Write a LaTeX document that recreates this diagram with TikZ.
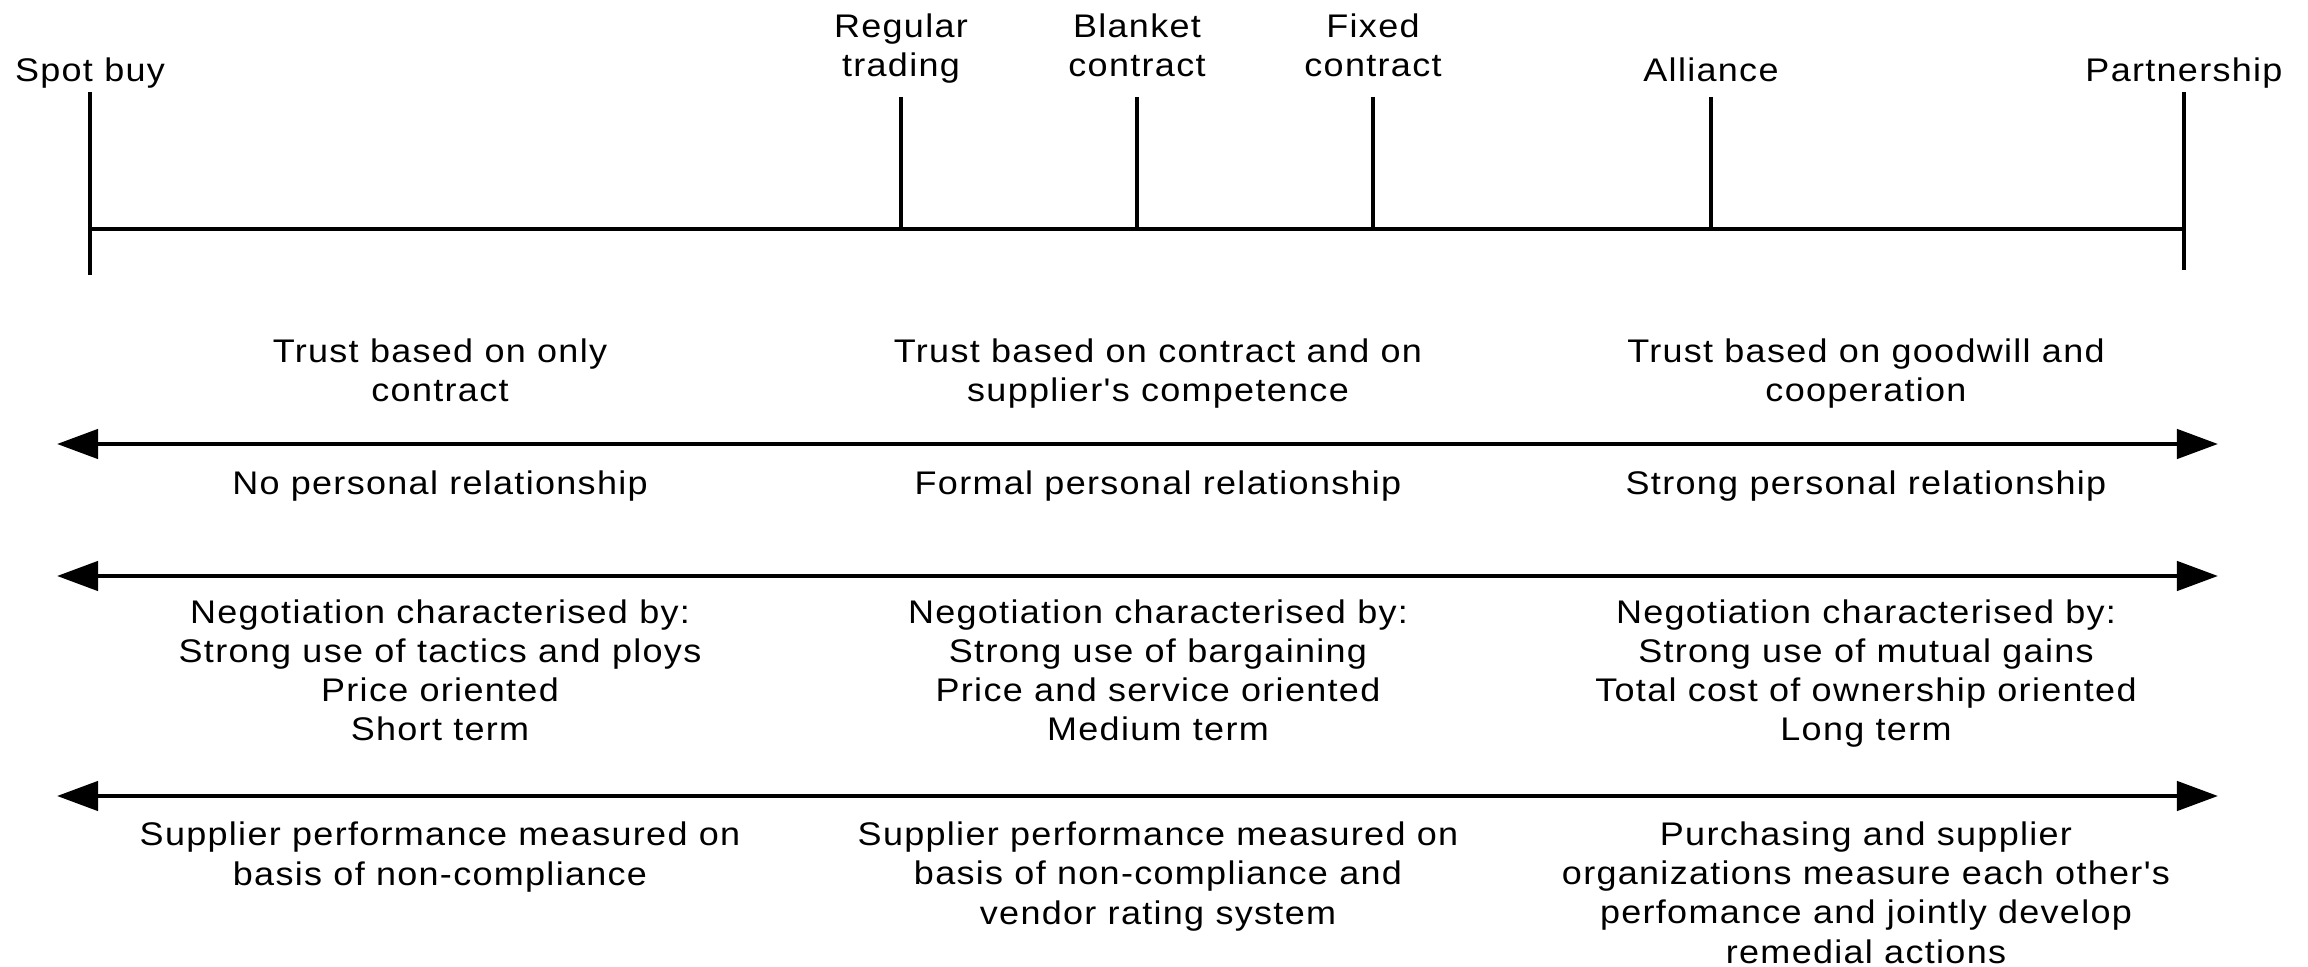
\documentclass[tikz,border=0pt]{standalone}
\usepackage{fontspec}
\newfontfamily\diagfont{Liberation Sans}[FakeStretch=1.1,LetterSpace=4]
\usetikzlibrary{arrows.meta}

\begin{document}
\begin{tikzpicture}[x=0.01cm,y=-0.01cm,>={Triangle[length=0.41cm,width=0.29cm]},
    txt/.style={font=\diagfont\fontsize{9.3}{11.1}\selectfont,align=center,anchor=base,inner sep=0pt},
    tick/.style={line width=0.035cm},
    band/.style={line width=0.045cm,<->}]
    \useasboundingbox (0,0) rectangle (2308,967);

    % relationship stages
    \foreach \n/\x/\t/\b in {spot/90/92/275, reg/901/97/229, blk/1137/97/229,
        fix/1373/97/229, all/1711/97/229, part/2184/92/270} {
        \coordinate (\n T) at (\x,\t);
        \coordinate (\n B) at (\x,\b);
        \draw[tick] (\n T) -- (\n B);
    }
    \draw[tick] (spotT|-regB) -- (partT|-regB);

    % labels: base = baseline of last line
    \node[txt] (spotlbl) at (90,82) {Spot buy};
    \node[txt] (reglbl) at (901,77) {Regular\\trading};
    \node[txt] (blklbl) at (1137,77) {Blanket\\contract};
    \node[txt] (fixlbl) at (1373,77) {Fixed\\contract};
    \node[txt] (alllbl) at (1711,82) {Alliance};
    \node[txt] (partlbl) at (2184,82) {Partnership};

    % double arrows
    \foreach \n/\y in {a/444, b/576, c/796} {
        \coordinate (\n L) at (57,\y);
        \coordinate (\n R) at (2218,\y);
        \draw[band] (\n L) -- (\n R);
    }

    % trust
    \node[txt] (trust1) at (440,402) {Trust based on only\\contract};
    \node[txt] (trust2) at (1158,402) {Trust based on contract and on\\supplier's competence};
    \node[txt] (trust3) at (1866,402) {Trust based on goodwill and\\cooperation};

    % personal relationship
    \node[txt] (pers1) at (440,495) {No personal relationship};
    \node[txt] (pers2) at (1158,495) {Formal personal relationship};
    \node[txt] (pers3) at (1866,495) {Strong personal relationship};

    % negotiation
    \node[txt] (nego1) at (440,741) {Negotiation characterised by:\\Strong use of tactics and ploys\\Price oriented\\Short term};
    \node[txt] (nego2) at (1158,741) {Negotiation characterised by:\\Strong use of bargaining\\Price and service oriented\\Medium term};
    \node[txt] (nego3) at (1866,741) {Negotiation characterised by:\\Strong use of mutual gains\\Total cost of ownership oriented\\Long term};

    % performance
    \node[txt] (perf1) at (440,885) {Supplier performance measured on\\basis of non-compliance};
    \node[txt] (perf2) at (1158,924) {Supplier performance measured on\\basis of non-compliance and\\vendor rating system};
    \node[txt] (perf3) at (1866,963) {Purchasing and supplier\\organizations measure each other's\\perfomance and jointly develop\\remedial actions};
\end{tikzpicture}
\end{document}
